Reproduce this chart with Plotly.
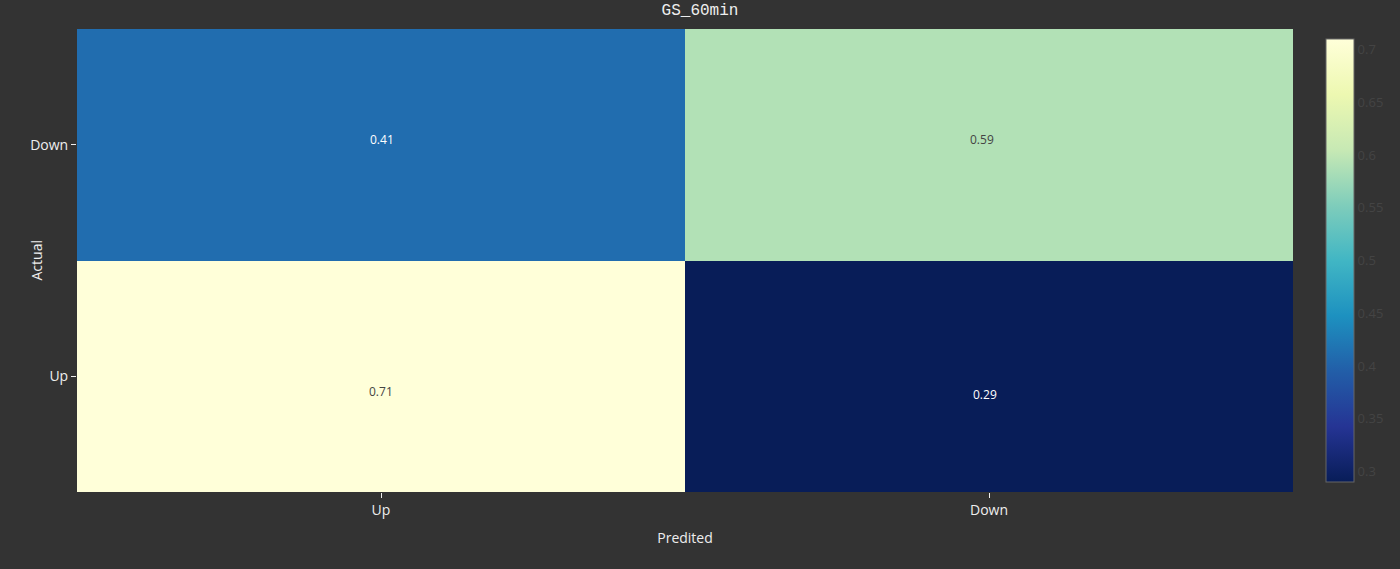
import plotly.graph_objects as go

x_labels = ["Up", "Down"]
y_labels = ["Up", "Down"]
z_values = [[0.71, 0.29],
            [0.41, 0.59]]
text_colors = [["#444444", "#ffffff"],
               ["#ffffff", "#444444"]]
text_shifts = [[(0, -15), (-4, -18)],
               [(1, 5), (-7, 5)]]
cbar_ticks = [0.3, 0.35, 0.4, 0.45, 0.5, 0.55, 0.6, 0.65, 0.7]

fig = go.Figure(go.Heatmap(
    x=x_labels, y=y_labels, z=z_values,
    colorscale="YlGnBu", reversescale=True, zmin=0.29, zmax=0.71,
    colorbar=dict(
        outlinecolor="#666666", outlinewidth=1, thickness=28, xpad=9,
        ticks="", ticklen=0,
        tickfont=dict(color="#444444", size=13),
        tickvals=cbar_ticks,
    ),
    hoverongaps=False,
))

for i, yl in enumerate(y_labels):
    for j, xl in enumerate(x_labels):
        dx, dy = text_shifts[i][j]
        fig.add_annotation(x=xl, y=yl, text=str(z_values[i][j]), showarrow=False,
                           font=dict(color=text_colors[i][j], size=12),
                           xshift=dx, yshift=dy)

# y-axis title as rotated annotation
fig.add_annotation(text="Actual", xref="paper", yref="paper", x=0, y=0.5,
                   xanchor="center", yanchor="middle", xshift=-41, textangle=-90,
                   showarrow=False, font=dict(size=14, color="#eeeeee"))

fig.update_layout(
    width=1400, height=569,
    paper_bgcolor="#333333", plot_bgcolor="#333333",
    margin=dict(l=77, r=107, t=29, b=77, autoexpand=False),
    title=dict(text="GS_60min", x=0.5, xanchor="center", y=0.993, yanchor="top",
               font=dict(family="Liberation Mono, Courier New, monospace", size=16, color="#eeeeee")),
    font=dict(family="Open Sans", color="#eeeeee"),
    xaxis=dict(title=dict(text="Predited", font=dict(size=14)), tickfont=dict(size=14),
               automargin=False,
               ticks="outside", ticklen=5, tickcolor="#eeeeee", showgrid=False, zeroline=False),
    yaxis=dict(tickfont=dict(size=14), automargin=False,
               ticks="outside", ticklen=5, tickcolor="#eeeeee", showgrid=False, zeroline=False),
)

fig.write_html("out.html")
